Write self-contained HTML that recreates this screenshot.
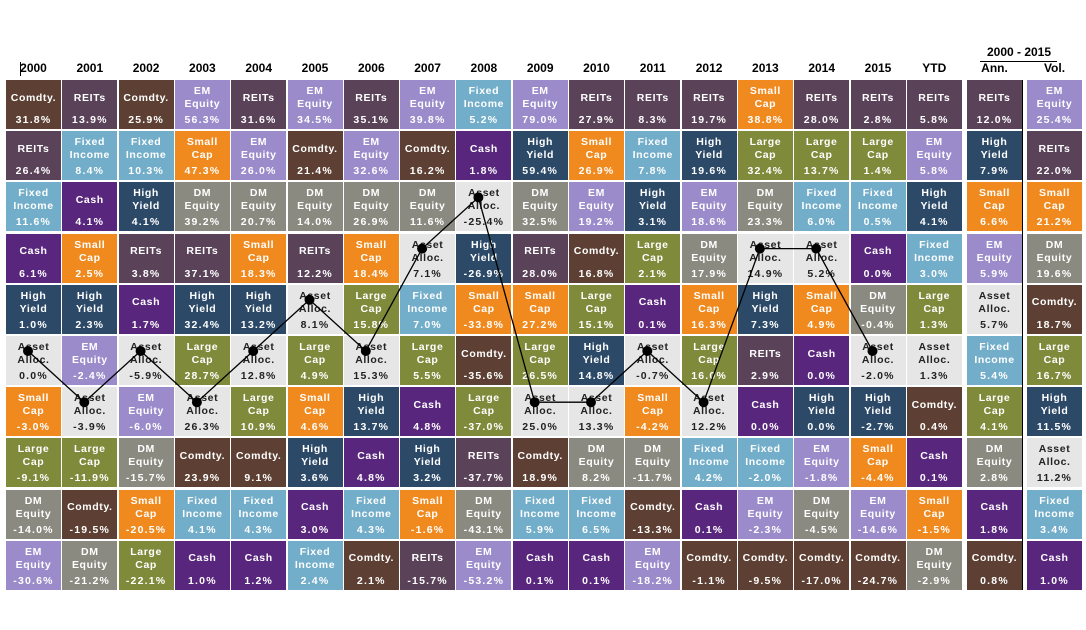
<!DOCTYPE html>
<html><head><meta charset="utf-8"><style>
body{margin:0;background:#fff;width:1086px;height:630px;overflow:hidden;position:relative;font-family:"Liberation Sans",Arial,sans-serif}
.cell{position:absolute;width:55px;height:49px;color:#fff;font-weight:bold;font-size:10.5px;text-align:center;letter-spacing:0.6px}
.cell .lb{position:absolute;left:0;right:0;top:3px;line-height:13px;height:30px;display:flex;flex-direction:column;justify-content:center}
.cell .vl{position:absolute;left:0;right:0;top:34px;line-height:12px;letter-spacing:1.2px}
.hd{position:absolute;top:61px;width:55px;text-align:center;font-weight:bold;font-size:12px;color:#000}
</style></head><body>
<div style="position:absolute;left:980px;top:45px;width:78px;text-align:center;font-weight:bold;font-size:12px">2000 - 2015</div>
<div style="position:absolute;left:980px;top:61px;width:77px;height:1px;background:#000"></div>
<div style="position:absolute;left:20px;top:62px;width:1px;height:14px;background:#000"></div>
<div style="position:absolute;left:1022px;top:80px;width:1px;height:510px;background:#000"></div>
<svg id="lines" width="1086" height="630" style="position:absolute;left:0;top:0;z-index:5;pointer-events:none"></svg>
<script>
const columns=["2000","2001","2002","2003","2004","2005","2006","2007","2008","2009","2010","2011","2012","2013","2014","2015","YTD","Ann.","Vol."];
const col2000=[["C",31.8],["R",26.4],["F",11.6],["X",6.1],["H",1.0],["A",0.0],["S",-3.0],["L",-9.1],["D",-14.0],["E",-30.6]];
const col2001=[["R",13.9],["F",8.4],["X",4.1],["S",2.5],["H",2.3],["E",-2.4],["A",-3.9],["L",-11.9],["C",-19.5],["D",-21.2]];
const col2002=[["C",25.9],["F",10.3],["H",4.1],["R",3.8],["X",1.7],["A",-5.9],["E",-6.0],["D",-15.7],["S",-20.5],["L",-22.1]];
const col2003=[["E",56.3],["S",47.3],["D",39.2],["R",37.1],["H",32.4],["L",28.7],["A",26.3],["C",23.9],["F",4.1],["X",1.0]];
const col2004=[["R",31.6],["E",26.0],["D",20.7],["S",18.3],["H",13.2],["A",12.8],["L",10.9],["C",9.1],["F",4.3],["X",1.2]];
const col2005=[["E",34.5],["C",21.4],["D",14.0],["R",12.2],["A",8.1],["L",4.9],["S",4.6],["H",3.6],["X",3.0],["F",2.4]];
const col2006=[["R",35.1],["E",32.6],["D",26.9],["S",18.4],["L",15.8],["A",15.3],["H",13.7],["X",4.8],["F",4.3],["C",2.1]];
const col2007=[["E",39.8],["C",16.2],["D",11.6],["A",7.1],["F",7.0],["L",5.5],["X",4.8],["H",3.2],["S",-1.6],["R",-15.7]];
const col2008=[["F",5.2],["X",1.8],["A",-25.4],["H",-26.9],["S",-33.8],["C",-35.6],["L",-37.0],["R",-37.7],["D",-43.1],["E",-53.2]];
const col2009=[["E",79.0],["H",59.4],["D",32.5],["R",28.0],["S",27.2],["L",26.5],["A",25.0],["C",18.9],["F",5.9],["X",0.1]];
const col2010=[["R",27.9],["S",26.9],["E",19.2],["C",16.8],["L",15.1],["H",14.8],["A",13.3],["D",8.2],["F",6.5],["X",0.1]];
const col2011=[["R",8.3],["F",7.8],["H",3.1],["L",2.1],["X",0.1],["A",-0.7],["S",-4.2],["D",-11.7],["C",-13.3],["E",-18.2]];
const col2012=[["R",19.7],["H",19.6],["E",18.6],["D",17.9],["S",16.3],["L",16.0],["A",12.2],["F",4.2],["X",0.1],["C",-1.1]];
const col2013=[["S",38.8],["L",32.4],["D",23.3],["A",14.9],["H",7.3],["R",2.9],["X",0.0],["F",-2.0],["E",-2.3],["C",-9.5]];
const col2014=[["R",28.0],["L",13.7],["F",6.0],["A",5.2],["S",4.9],["X",0.0],["H",0.0],["E",-1.8],["D",-4.5],["C",-17.0]];
const col2015=[["R",2.8],["L",1.4],["F",0.5],["X",0.0],["D",-0.4],["A",-2.0],["H",-2.7],["S",-4.4],["E",-14.6],["C",-24.7]];
const colYTD=[["R",5.8],["E",5.8],["H",4.1],["F",3.0],["L",1.3],["A",1.3],["C",0.4],["X",0.1],["S",-1.5],["D",-2.9]];
const colAnn=[["R",12.0],["H",7.9],["S",6.6],["E",5.9],["A",5.7],["F",5.4],["L",4.1],["D",2.8],["X",1.8],["C",0.8]];
const colVol=[["E",25.4],["R",22.0],["S",21.2],["D",19.6],["C",18.7],["L",16.7],["H",11.5],["A",11.2],["F",3.4],["X",1.0]];
const allCols=[col2000,col2001,col2002,col2003,col2004,col2005,col2006,col2007,col2008,col2009,col2010,col2011,col2012,col2013,col2014,col2015,colYTD,colAnn,colVol];
const assets={C:["Comdty.","#5d4033"],R:["REITs","#5a4259"],F:["Fixed<br>Income","#72adc9"],X:["Cash","#59267e"],H:["High<br>Yield","#2c4a68"],A:["Asset<br>Alloc.","#e6e6e6"],S:["Small<br>Cap","#f08a1f"],L:["Large<br>Cap","#7f8a3b"],D:["DM<br>Equity","#8a8a80"],E:["EM<br>Equity","#9b8bcb"]};
function colX(i){return i<17?6+i*56.3:(i===17?967:1027);}
function rowY(r){return 80+r*51.2;}
const pts=[];
allCols.forEach((col,i)=>{
  const h=document.createElement('div');h.className='hd';h.style.left=colX(i)+'px';h.textContent=columns[i];
  
  
  document.body.appendChild(h);
  col.forEach((d,r)=>{
    const a=assets[d[0]];
    const c=document.createElement('div');c.className='cell';
    c.style.left=colX(i)+'px';c.style.top=rowY(r)+'px';c.style.background=a[1];
    if(d[0]==='A')c.style.color='#222';
    c.innerHTML='<div class="lb">'+a[0]+'</div><div class="vl">'+d[1].toFixed(1)+'%</div>';
    
    
    document.body.appendChild(c);
    if(d[0]==='A'&&i<16)pts.push([colX(i)+22,rowY(r)+15]);
  });
});
const svg=document.getElementById('lines');
const pl=document.createElementNS('http://www.w3.org/2000/svg','polyline');
pl.setAttribute('points',pts.map(p=>p.join(',')).join(' '));
pl.setAttribute('fill','none');pl.setAttribute('stroke','#000');pl.setAttribute('stroke-width','1.3');


svg.appendChild(pl);
pts.forEach(p=>{
  const c=document.createElementNS('http://www.w3.org/2000/svg','circle');
  c.setAttribute('cx',p[0]);c.setAttribute('cy',p[1]);c.setAttribute('r',5);c.setAttribute('fill','#000');
  
  
  svg.appendChild(c);
});
</script>
</body></html>
